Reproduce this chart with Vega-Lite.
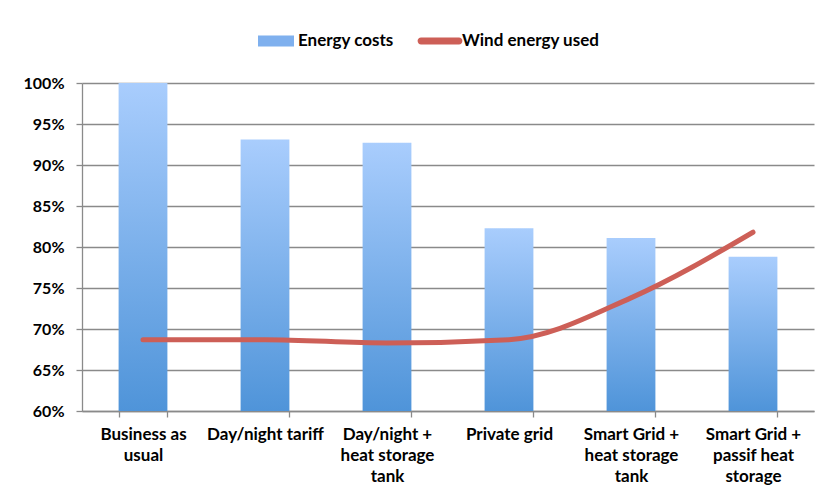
{
  "$schema": "https://vega.github.io/schema/vega-lite/v6.json",
  "width": 732,
  "height": 328,
  "autosize": {"type": "none"},
  "padding": {"left": 82, "top": 83, "right": 13, "bottom": 84},
  "background": "white",
  "config": {
    "view": {"stroke": null},
    "font": "Lato",
    "axis": {
      "labelFont": "Lato",
      "labelFontSize": 16,
      "labelFontWeight": "bold",
      "labelColor": "black",
      "domainColor": "#8a8a8a",
      "tickColor": "#8a8a8a",
      "gridColor": "#8a8a8a",
      "domainWidth": 1.3,
      "tickWidth": 1.3,
      "gridWidth": 1.3,
      "tickSize": 6
    }
  },
  "data": {
    "values": [
      {"scenario": "Business as usual", "costs": 1.0, "wind": 0.687},
      {"scenario": "Day/night tariff", "costs": 0.931, "wind": 0.687},
      {"scenario": "Day/night + heat storage tank", "costs": 0.927, "wind": 0.683},
      {"scenario": "Private grid", "costs": 0.823, "wind": 0.687},
      {"scenario": "Smart Grid + heat storage tank", "costs": 0.811, "wind": 0.738},
      {"scenario": "Smart Grid + passif heat storage", "costs": 0.788, "wind": 0.818}
    ]
  },
  "encoding": {
    "x": {
      "field": "scenario",
      "type": "nominal",
      "sort": null,
      "scale": {"paddingInner": 0.6, "paddingOuter": 0.3},
      "axis": {
        "title": null,
        "labelAngle": 0,
        "tickBand": "extent",
        "labelPadding": 9,
        "labelFontSize": 17,
        "labelLineHeight": 21,
        "labelExpr": "datum.value == 'Business as usual' ? ['Business as','usual'] : datum.value == 'Day/night + heat storage tank' ? ['Day/night +','heat storage','tank'] : datum.value == 'Smart Grid + heat storage tank' ? ['Smart Grid +','heat storage','tank'] : datum.value == 'Smart Grid + passif heat storage' ? ['Smart Grid +','passif heat','storage'] : datum.value"
      }
    }
  },
  "layer": [
    {
      "mark": {
        "type": "bar",
        "fill": {
          "gradient": "linear",
          "x1": 0, "y1": 0, "x2": 0, "y2": 1,
          "stops": [
            {"offset": 0, "color": "#a9cdfd"},
            {"offset": 1, "color": "#4f94d9"}
          ]
        }
      },
      "encoding": {
        "y": {
          "field": "costs",
          "type": "quantitative",
          "scale": {"domain": [0.6, 1.0], "nice": false},
          "axis": {
            "title": null,
            "format": ".0%",
            "values": [0.6, 0.65, 0.7, 0.75, 0.8, 0.85, 0.9, 0.95, 1.0],
            "grid": true,
            "labelPadding": 12
          }
        },
        "y2": {"datum": 0.6},
        "color": {
          "datum": "Energy costs",
          "type": "nominal",
          "scale": {"domain": ["Energy costs", "Wind energy used"], "range": ["#7fb0ee", "#cd5f57"]},
          "legend": {
            "orient": "none",
            "legendX": 174,
            "legendY": -62,
            "direction": "horizontal",
            "title": null,
            "padding": 0,
            "labelFont": "Lato",
            "labelFontSize": 17,
            "labelFontWeight": "bold",
            "labelColor": "black",
            "labelOffset": 2,
            "columnPadding": 23,
            "symbolSize": 1600,
            "encode": {
              "symbols": {
                "update": {
                  "shape": [
                    {"test": "datum.value === 'Energy costs'", "value": "M-0.9,-0.27H0.9V0.27H-0.9Z"},
                    {"value": "M-0.95,-0.17H0.95A0.17,0.17,0,0,1,0.95,0.17H-0.95A0.17,0.17,0,0,1,-0.95,-0.17Z"}
                  ],
                  "fill": [
                    {"test": "datum.value === 'Energy costs'", "value": {"gradient": "linear", "x1": 0, "y1": 0, "x2": 0, "y2": 1, "stops": [{"offset": 0, "color": "#a9cdfd"}, {"offset": 1, "color": "#4f94d9"}]}},
                    {"value": "#cd5f57"}
                  ],
                  "stroke": {"value": "transparent"},
                  "strokeWidth": {"value": 0},
                  "opacity": {"value": 1}
                }
              }
            }
          }
        }
      }
    },
    {
      "mark": {
        "type": "line",
        "strokeWidth": 5,
        "interpolate": "monotone",
        "strokeCap": "round",
        "strokeJoin": "round",
        "stroke": "#cd5f57"
      },
      "encoding": {
        "y": {"field": "wind", "type": "quantitative"},
        "color": {"datum": "Wind energy used", "type": "nominal"}
      }
    }
  ]
}
